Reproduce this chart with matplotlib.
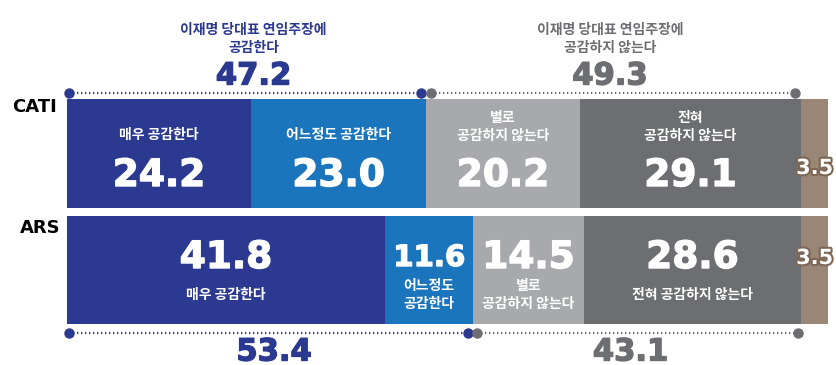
import matplotlib.pyplot as plt
import matplotlib.patheffects as pe

# survey data (%)
groups = ['CATI', 'ARS']
cati = [24.2, 23.0, 20.2, 29.1, 3.5]
ars = [41.8, 11.6, 14.5, 28.6, 3.5]
cati_labels = ['매우 공감한다', '어느정도 공감한다', '별로\n공감하지 않는다', '전혀\n공감하지 않는다', '']
ars_labels = ['매우 공감한다', '어느정도\n공감한다', '별로\n공감하지 않는다', '전혀 공감하지 않는다', '']
cati_agree, cati_disagree = 47.2, 49.3
ars_agree, ars_disagree = 53.4, 43.1
head_agree = '이재명 당대표 연임주장에\n공감한다'
head_disagree = '이재명 당대표 연임주장에\n공감하지 않는다'

colors = ['#2b3990', '#1b75bc', '#a7a9ac', '#6d6e71', '#998675']
blue = '#2b3990'
gray = '#6d6e71'
kr = ['Noto Sans CJK KR', 'DejaVu Sans']
num_font = 'DejaVu Sans'

fig = plt.figure(figsize=(8.37, 3.65), dpi=100)
ax = fig.add_axes([0, 0, 1, 1])
scale = 7.61  # px per percent
ax.set_xlim(-67 / scale, (837 - 67) / scale)
ax.set_ylim(365, 0)
ax.axis('off')


def thick(c, w=0.5):
    return [pe.withStroke(linewidth=w, foreground=c)]


rows = [(cati, cati_labels, 153.5, 109, 'top'), (ars, ars_labels, 270, 108, 'bottom')]
for vals, labels, yc, h, pos in rows:
    left = 0
    for i, (v, lab) in enumerate(zip(vals, labels)):
        ax.barh(yc, v, left=left, height=h, color=colors[i], edgecolor='none')
        xc = left + v / 2
        if i == 4:
            ax.text(xc, 168 if pos == 'top' else 258, f'{v:.1f}', ha='center', va='center',
                    color='white', fontsize=15, fontweight='bold', family=num_font,
                    path_effects=[pe.withStroke(linewidth=3, foreground='#7d6858')])
            left += v
            continue
        fs = 27 if v > 12 else 21
        if pos == 'top':
            ly = 127 if '\n' in lab else 135
            ny = 176
        else:
            ly = 295
            ny = 258
        ax.text(xc, ly, lab, ha='center', va='center', color='white', fontsize=10,
                family=kr, fontweight='bold', linespacing=1.4)
        ax.text(xc, ny, f'{v:.1f}', ha='center', va='center', color='white',
                fontsize=fs, fontweight='bold', family=num_font, path_effects=thick('white', 1.0))
        left += v

ax.text(35 / scale - 67 / scale, 107, groups[0], ha='center', va='center',
        fontsize=13, fontweight='bold', color='black', family=num_font)
ax.text(40 / scale - 67 / scale, 228, groups[1], ha='center', va='center',
        fontsize=13, fontweight='bold', color='black', family=num_font)


def bracket(x0, x1, y, c):
    ax.plot([x0, x1], [y, y], color=c, lw=1.6, ls=(0, (0.6, 1.2)))
    ax.plot([x0, x1], [y, y], ls='none', marker='o', ms=6.5, color=c)


# top brackets (CATI)
bracket(0.3, cati_agree - 0.7, 93, blue)
bracket(cati_agree + 0.6, cati_agree + cati_disagree - 0.9, 93, gray)
# bottom brackets (ARS)
bracket(0.3, ars_agree - 0.7, 333, blue)
bracket(ars_agree + 0.5, ars_agree + ars_disagree - 0.5, 333, gray)

ax.text(cati_agree / 2 + 0.9, 39, head_agree, ha='center', va='center', color=blue,
        fontsize=10, family=kr, fontweight='bold', linespacing=1.3)
ax.text(cati_agree + cati_disagree / 2 - 0.5, 39, head_disagree, ha='center', va='center',
        color=gray, fontsize=10, family=kr, fontweight='bold', linespacing=1.3)
ax.text(cati_agree / 2 + 0.9, 76, f'{cati_agree:.1f}', ha='center', va='center', color=blue,
        fontsize=22, fontweight='bold', family=num_font, path_effects=thick(blue, 1.0))
ax.text(cati_agree + cati_disagree / 2 - 0.5, 76, f'{cati_disagree:.1f}', ha='center',
        va='center', color=gray, fontsize=22, fontweight='bold', family=num_font,
        path_effects=thick(gray, 1.0))
ax.text(ars_agree / 2 + 0.5, 352, f'{ars_agree:.1f}', ha='center', va='center', color=blue,
        fontsize=22, fontweight='bold', family=num_font, path_effects=thick(blue, 1.0))
ax.text(ars_agree + ars_disagree / 2 - 0.9, 352, f'{ars_disagree:.1f}', ha='center',
        va='center', color=gray, fontsize=22, fontweight='bold', family=num_font,
        path_effects=thick(gray, 1.0))

fig.savefig('out.png', dpi=100)
